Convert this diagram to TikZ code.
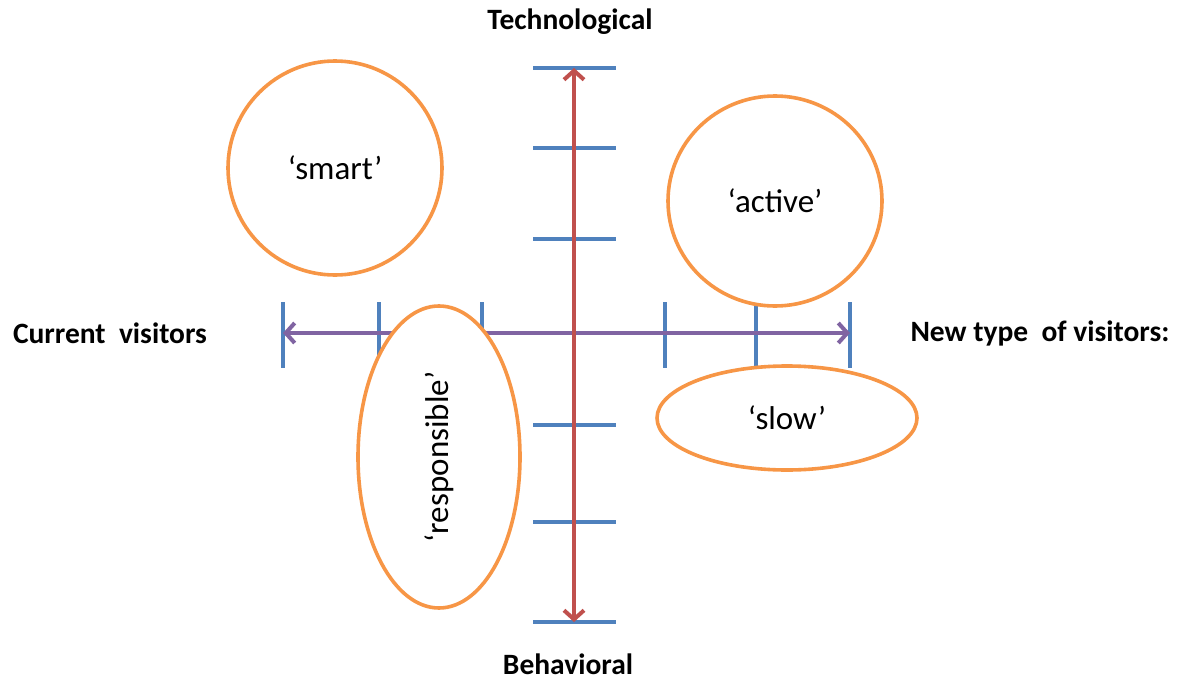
\documentclass[tikz,border=0pt]{standalone}
\usepackage{fontspec}
\setmainfont{Carlito}
\usetikzlibrary{shapes,arrows.meta,positioning}
\definecolor{tickblue}{HTML}{4F81BD}
\definecolor{axisred}{HTML}{C0504D}
\definecolor{axispurple}{HTML}{8064A2}
\definecolor{grouporange}{HTML}{F79646}
\tikzstyle{tick} = [draw=tickblue, line width=4pt]
\tikzstyle{axis} = [draw, line width=4pt, {Straight Barb[length=9pt,width=20pt]}-{Straight Barb[length=9pt,width=20pt]}]
\tikzstyle{group} = [ellipse, draw=grouporange, fill=white, line width=3.6pt, inner sep=0pt, font=\fontsize{33}{38}\selectfont]
\tikzstyle{pole} = [font=\fontsize{29.5}{34}\selectfont\bfseries]

\begin{document}
\begin{tikzpicture}[x=1pt, y=-1pt]
    \useasboundingbox (0,0) rectangle (1179,680);

    \coordinate (tech) at (574,68);
    \coordinate (behav) at (574,622);
    \coordinate (current) at (283,333);
    \coordinate (newtype) at (850,333);

    % scale marks
    \foreach \y in {68,148,239,425,522,622}
        \draw [tick] (533,\y) -- (616,\y);
    \foreach \x in {283,379,482,665,756,850}
        \draw [tick] (\x,302) -- (\x,368);

    \draw [axis, axispurple] (current) -- (newtype);
    \draw [axis, axisred] (behav) -- (tech);

    \node (techlabel) [pole] at (570,22) {Technological};
    \node (behavlabel) [pole] at (568,664) {Behavioral};
    \node (currentlabel) [pole] at (110,333) {Current\ \ visitors};
    \node (newlabel) [pole] at (1040,333) {New type\ \ of visitors:};

    \node (smart) [group, minimum width=214pt, minimum height=214pt] at (335,168) {‘smart’};
    \node (active) [group, minimum width=214pt, minimum height=210pt] at (775,201) {‘active’};
    \node (responsible) [group, rotate=90, minimum width=302pt, minimum height=162pt] at (439,457) {‘responsible’};
    \node (slow) [group, minimum width=260pt, minimum height=104pt] at (787,418) {‘slow’};

\end{tikzpicture}
\end{document}
